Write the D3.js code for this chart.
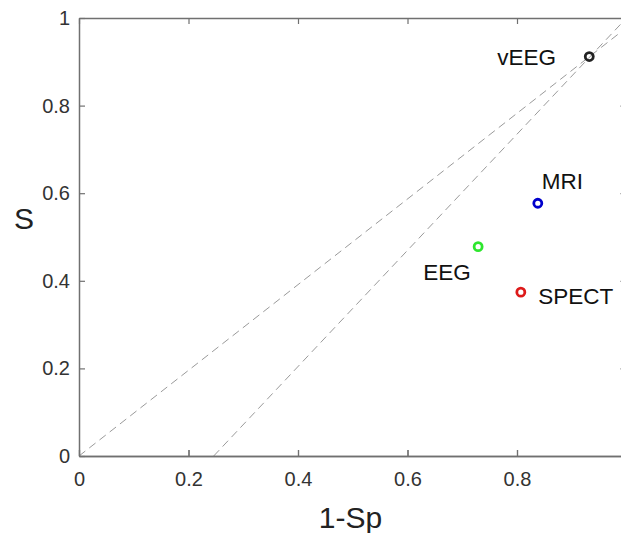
<!DOCTYPE html>
<html><head><meta charset="utf-8">
<script src="https://cdn.jsdelivr.net/npm/d3@7"></script>
<style>body{margin:0;background:#fff;overflow:hidden}svg{display:block}text{font-family:"Liberation Sans",Arial,sans-serif}</style>
</head><body><svg id="c" width="621" height="533"></svg>
<script>
const methods = ["vEEG","MRI","EEG","SPECT"];
const fpr = [0.932, 0.838, 0.729, 0.807];   // 1-Sp
const tpr = [0.912, 0.577, 0.478, 0.374];   // S
const colors = ["#222222","#0000cc","#2ee62e","#dd1a1a"];
const xTicks = [0,0.2,0.4,0.6,0.8,1];
const xTickLabels = [0,0.2,0.4,0.6,0.8];
const yTicks = [0,0.2,0.4,0.6,0.8,1];
const line1 = [[0,0],[1,0.978]];
const line2 = [[0.246,0],[1,1.0]];

const svg = d3.select("#c");
const L=79, T=18, W=547.5, H=438;
const x = d3.scaleLinear().domain([0,1]).range([L,L+W]);
const y = d3.scaleLinear().domain([0,1]).range([T+H,T]);
const axisCol="#707070";

const g = svg.append("g");
const ln = d3.line().x(d=>x(d[0])).y(d=>y(d[1]));
[line1,line2].forEach(l=>g.append("path").attr("d",ln(l)).attr("fill","none")
  .attr("stroke","#9a9a9a").attr("stroke-width",1).attr("stroke-dasharray","8,5"));

function style(sel){
  sel.select(".domain").attr("stroke",axisCol).attr("stroke-width",1.5);
  sel.selectAll(".tick line").attr("stroke",axisCol).attr("stroke-width",1.2);
  sel.selectAll("text").attr("fill","#333").style("font-size","20px");
}
const fmt = d=> d===0?"0":d===1?"1":String(d);
const xb = svg.append("g").attr("transform",`translate(0,${T+H})`)
  .call(d3.axisBottom(x).tickValues(xTickLabels).tickFormat(fmt).tickSizeInner(-6).tickSizeOuter(0).tickPadding(16));
style(xb);
const xb2 = svg.append("g").attr("transform",`translate(0,${T+H})`)
  .call(d3.axisBottom(x).tickValues(xTicks).tickFormat("").tickSizeInner(-6).tickSizeOuter(0));
style(xb2);
const yl = svg.append("g").attr("transform",`translate(${L},0)`)
  .call(d3.axisLeft(y).tickValues(yTicks).tickFormat(fmt).tickSizeInner(-6).tickSizeOuter(0).tickPadding(9));
style(yl);
const xt = svg.append("g").attr("transform",`translate(0,${T})`)
  .call(d3.axisTop(x).tickValues(xTicks).tickFormat("").tickSizeInner(-6).tickSizeOuter(0));
style(xt);
const yr = svg.append("g").attr("transform",`translate(${L+W},0)`)
  .call(d3.axisRight(y).tickValues(yTicks).tickFormat("").tickSizeInner(-6).tickSizeOuter(0));
style(yr);

// axis titles
svg.append("text").attr("x",350.5).attr("y",528).attr("text-anchor","middle")
  .style("font-size","30px").attr("fill","#222").text("1-Sp");
svg.append("text").attr("x",24).attr("y",228.5).attr("text-anchor","middle")
  .style("font-size","30px").attr("fill","#222").text("S");

// points
methods.forEach((m,i)=>{
  svg.append("circle").attr("cx",x(fpr[i])).attr("cy",y(tpr[i])).attr("r",4)
    .attr("fill","none").attr("stroke",colors[i]).attr("stroke-width",2.8);
});
// labels
const offs = {vEEG:[-92,8.5], MRI:[4,-14], EEG:[-55,33.3], SPECT:[17.3,12]};
methods.forEach((m,i)=>{
  const o=offs[m];
  svg.append("text").attr("x",x(fpr[i])+o[0]).attr("y",y(tpr[i])+o[1]).attr("text-anchor","start")
    .style("font-size","22.5px").attr("fill","#111").text(m);
});
</script></body></html>
